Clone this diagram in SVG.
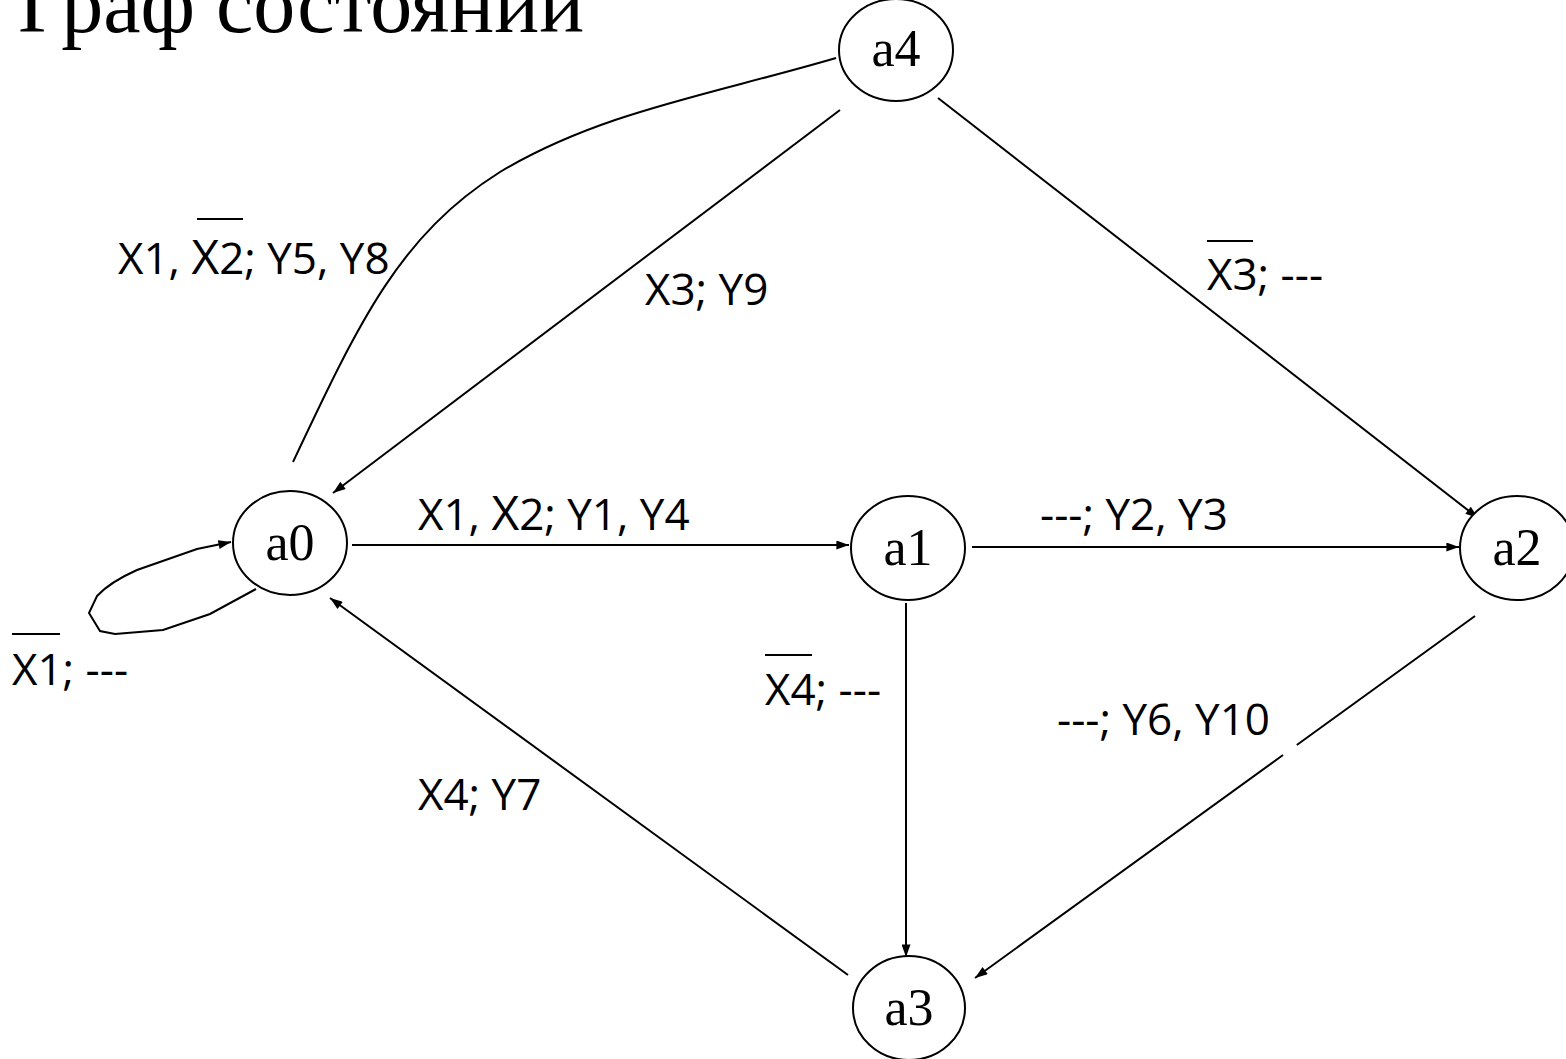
<svg xmlns="http://www.w3.org/2000/svg" width="1566" height="1059" viewBox="0 0 1566 1059">
  <style>
    .state ellipse { fill: #ffffff; stroke: #000000; stroke-width: 2; }
    .state text { font-family: "Liberation Serif", "Times New Roman", serif; font-size: 52px; text-anchor: middle; fill: #000000; }
    .edge { fill: none; stroke: #000000; stroke-width: 2; }
    .arrow { marker-end: url(#arr); }
    .lbl { font-family: "Open Sans", "Liberation Sans", sans-serif; font-size: 44px; fill: #000000; }
    .bar { stroke: #000000; stroke-width: 2; }
    .title { font-family: "Liberation Serif", "Times New Roman", serif; font-size: 84px; fill: #000000; }
  </style>
  <defs>
    <marker id="arr" viewBox="0 0 14 10" refX="14" refY="5" markerWidth="13" markerHeight="9" markerUnits="userSpaceOnUse" orient="auto">
      <path d="M0,0 L14,5 L0,10 z" fill="#000000"/>
    </marker>
  </defs>
  <rect width="1566" height="1059" fill="#ffffff"/>

  <text class="title" x="18" y="32">Граф состояний</text>

  <!-- transitions -->
  <g id="connectors">
    <!-- a0 -> a4 (curved, no head) -->
    <path class="edge" d="M293,462 C360,320 400,235 500,172 C600,112 710,95 836,58"/>
    <!-- a4 -> a0 -->
    <path class="edge arrow" d="M840,110 L333,493"/>
    <!-- a4 -> a2 -->
    <path class="edge arrow" d="M938,98 L1478,518"/>
    <!-- a0 -> a1 -->
    <path class="edge arrow" d="M352,545 L849,545"/>
    <!-- a1 -> a2 -->
    <path class="edge arrow" d="M972,547 L1459,547"/>
    <!-- a1 -> a3 -->
    <path class="edge arrow" d="M906,603 L906,957"/>
    <!-- a2 -> a3 -->
    <path class="edge arrow" d="M1475,616 L975,978" stroke-dasharray="220 17 1000"/>
    <!-- a3 -> a0 -->
    <path class="edge arrow" d="M848,975 L330,598"/>
    <!-- a0 self loop -->
    <path class="edge arrow" d="M256,589 L210,614 L163,630 L115,634 L100,631 L89,613 L97,596 Q110,582 137,570 L197,549 L231,542"/>
  </g>

  <!-- transition labels -->
  <g id="labels">
    <text class="lbl" x="118" y="274">X1, <tspan font-size="48">X</tspan>2; Y5, Y8</text>
    <line class="bar" x1="197" y1="219" x2="243" y2="219"/>
    <text class="lbl" x="645" y="305">X3; Y9</text>
    <text class="lbl" x="1207" y="290">X3; ---</text>
    <line class="bar" x1="1207" y1="241" x2="1253" y2="241"/>
    <text class="lbl" x="418" y="530">X1, <tspan font-size="48">X</tspan>2; Y1, Y4</text>
    <text class="lbl" x="1040" y="530">---; Y2, Y3</text>
    <text class="lbl" x="12" y="685">X1; ---</text>
    <line class="bar" x1="12" y1="634" x2="60" y2="634"/>
    <text class="lbl" x="765" y="705">X4; ---</text>
    <line class="bar" x1="765" y1="655" x2="812" y2="655"/>
    <text class="lbl" x="1057" y="735">---; Y6, Y10</text>
    <text class="lbl" x="418" y="810">X4; Y7</text>
  </g>

  <!-- states -->
  <g id="a4" class="state">
    <ellipse cx="896" cy="50" rx="57" ry="51"/>
    <text x="896" y="66">a4</text>
  </g>
  <g id="a0" class="state">
    <ellipse cx="290" cy="543" rx="57" ry="52"/>
    <text x="290" y="560">a0</text>
  </g>
  <g id="a1" class="state">
    <ellipse cx="908" cy="548" rx="57" ry="52"/>
    <text x="908" y="565">a1</text>
  </g>
  <g id="a2" class="state">
    <ellipse cx="1517" cy="548" rx="57" ry="52"/>
    <text x="1517" y="565">a2</text>
  </g>
  <g id="a3" class="state">
    <ellipse cx="909" cy="1008" rx="56" ry="52"/>
    <text x="909" y="1025">a3</text>
  </g>
</svg>
